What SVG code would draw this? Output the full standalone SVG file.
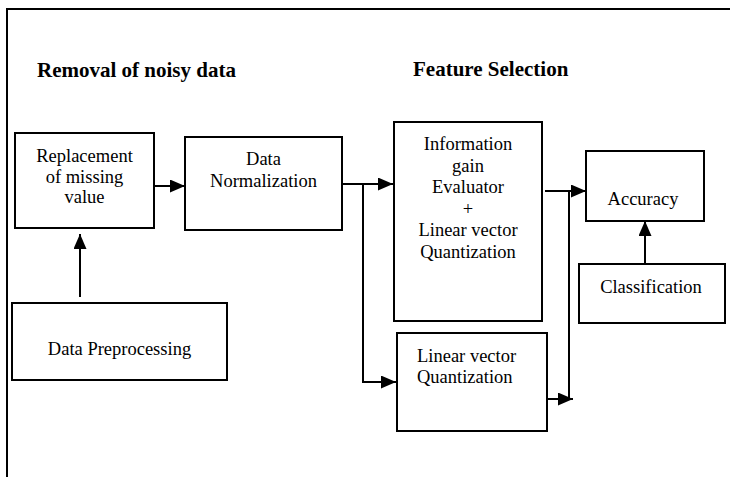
<svg xmlns="http://www.w3.org/2000/svg" width="730" height="477" viewBox="0 0 730 477">
<style>
.box{fill:#fff;stroke:#000;stroke-width:2}
.t{font-family:"Liberation Serif","Times New Roman",serif;font-size:18.5px;fill:#000;text-anchor:middle}
.h{font-family:"Liberation Serif","Times New Roman",serif;font-size:21px;font-weight:bold;fill:#000}
.c{fill:none;stroke:#000;stroke-width:2}
</style>
<defs>
<marker id="ah" markerUnits="userSpaceOnUse" markerWidth="16" markerHeight="14" refX="15" refY="6.5" orient="auto">
<path d="M0,0 L15,6.5 L0,13 z" fill="#000"/>
</marker>
</defs>
<rect width="730" height="477" fill="#fff"/>
<path d="M7,477 V9 H730" fill="none" stroke="#000" stroke-width="2"/>
<text class="h" x="37" y="77">Removal of noisy data</text>
<text class="h" x="413" y="76">Feature Selection</text>
<g id="connectors">
<path class="c" d="M80,297 V234" marker-end="url(#ah)"/>
<path class="c" d="M154,186 H185" marker-end="url(#ah)"/>
<path class="c" d="M342,184 H393" marker-end="url(#ah)"/>
<path class="c" d="M363,184 V382 H396" marker-end="url(#ah)"/>
<path class="c" d="M545,191 H586" marker-end="url(#ah)"/>
<path class="c" d="M569,191 V399"/>
<path class="c" d="M547,399 H573" marker-end="url(#ah)"/>
<path class="c" d="M645,264 V221" marker-end="url(#ah)"/>
</g>
<g id="replacement">
<rect class="box" x="15" y="133" width="139" height="95"/>
<text class="t" x="84.5" y="162">Replacement</text>
<text class="t" x="84.5" y="183">of missing</text>
<text class="t" x="84.5" y="203">value</text>
</g>
<g id="normalization">
<rect class="box" x="185" y="137" width="157" height="93"/>
<text class="t" x="263.5" y="165">Data</text>
<text class="t" x="263.5" y="187">Normalization</text>
</g>
<g id="preprocessing">
<rect class="box" x="12" y="303" width="215" height="77"/>
<text class="t" x="119.5" y="355">Data Preprocessing</text>
</g>
<g id="infogain">
<rect class="box" x="394" y="122" width="148" height="199"/>
<text class="t" x="468" y="150">Information</text>
<text class="t" x="468" y="171.5">gain</text>
<text class="t" x="468" y="193">Evaluator</text>
<text class="t" x="468" y="214.5">+</text>
<text class="t" x="468" y="236">Linear vector</text>
<text class="t" x="468" y="257.5">Quantization</text>
</g>
<g id="lvq">
<rect class="box" x="397" y="333" width="150" height="98"/>
<text class="t" x="417" y="362" style="text-anchor:start">Linear vector</text>
<text class="t" x="417" y="383" style="text-anchor:start">Quantization</text>
</g>
<g id="accuracy">
<rect class="box" x="586" y="151" width="118" height="70"/>
<text class="t" x="643" y="205">Accuracy</text>
</g>
<g id="classification">
<rect class="box" x="579" y="264" width="146" height="59"/>
<text class="t" x="651" y="293">Classification</text>
</g>
</svg>
